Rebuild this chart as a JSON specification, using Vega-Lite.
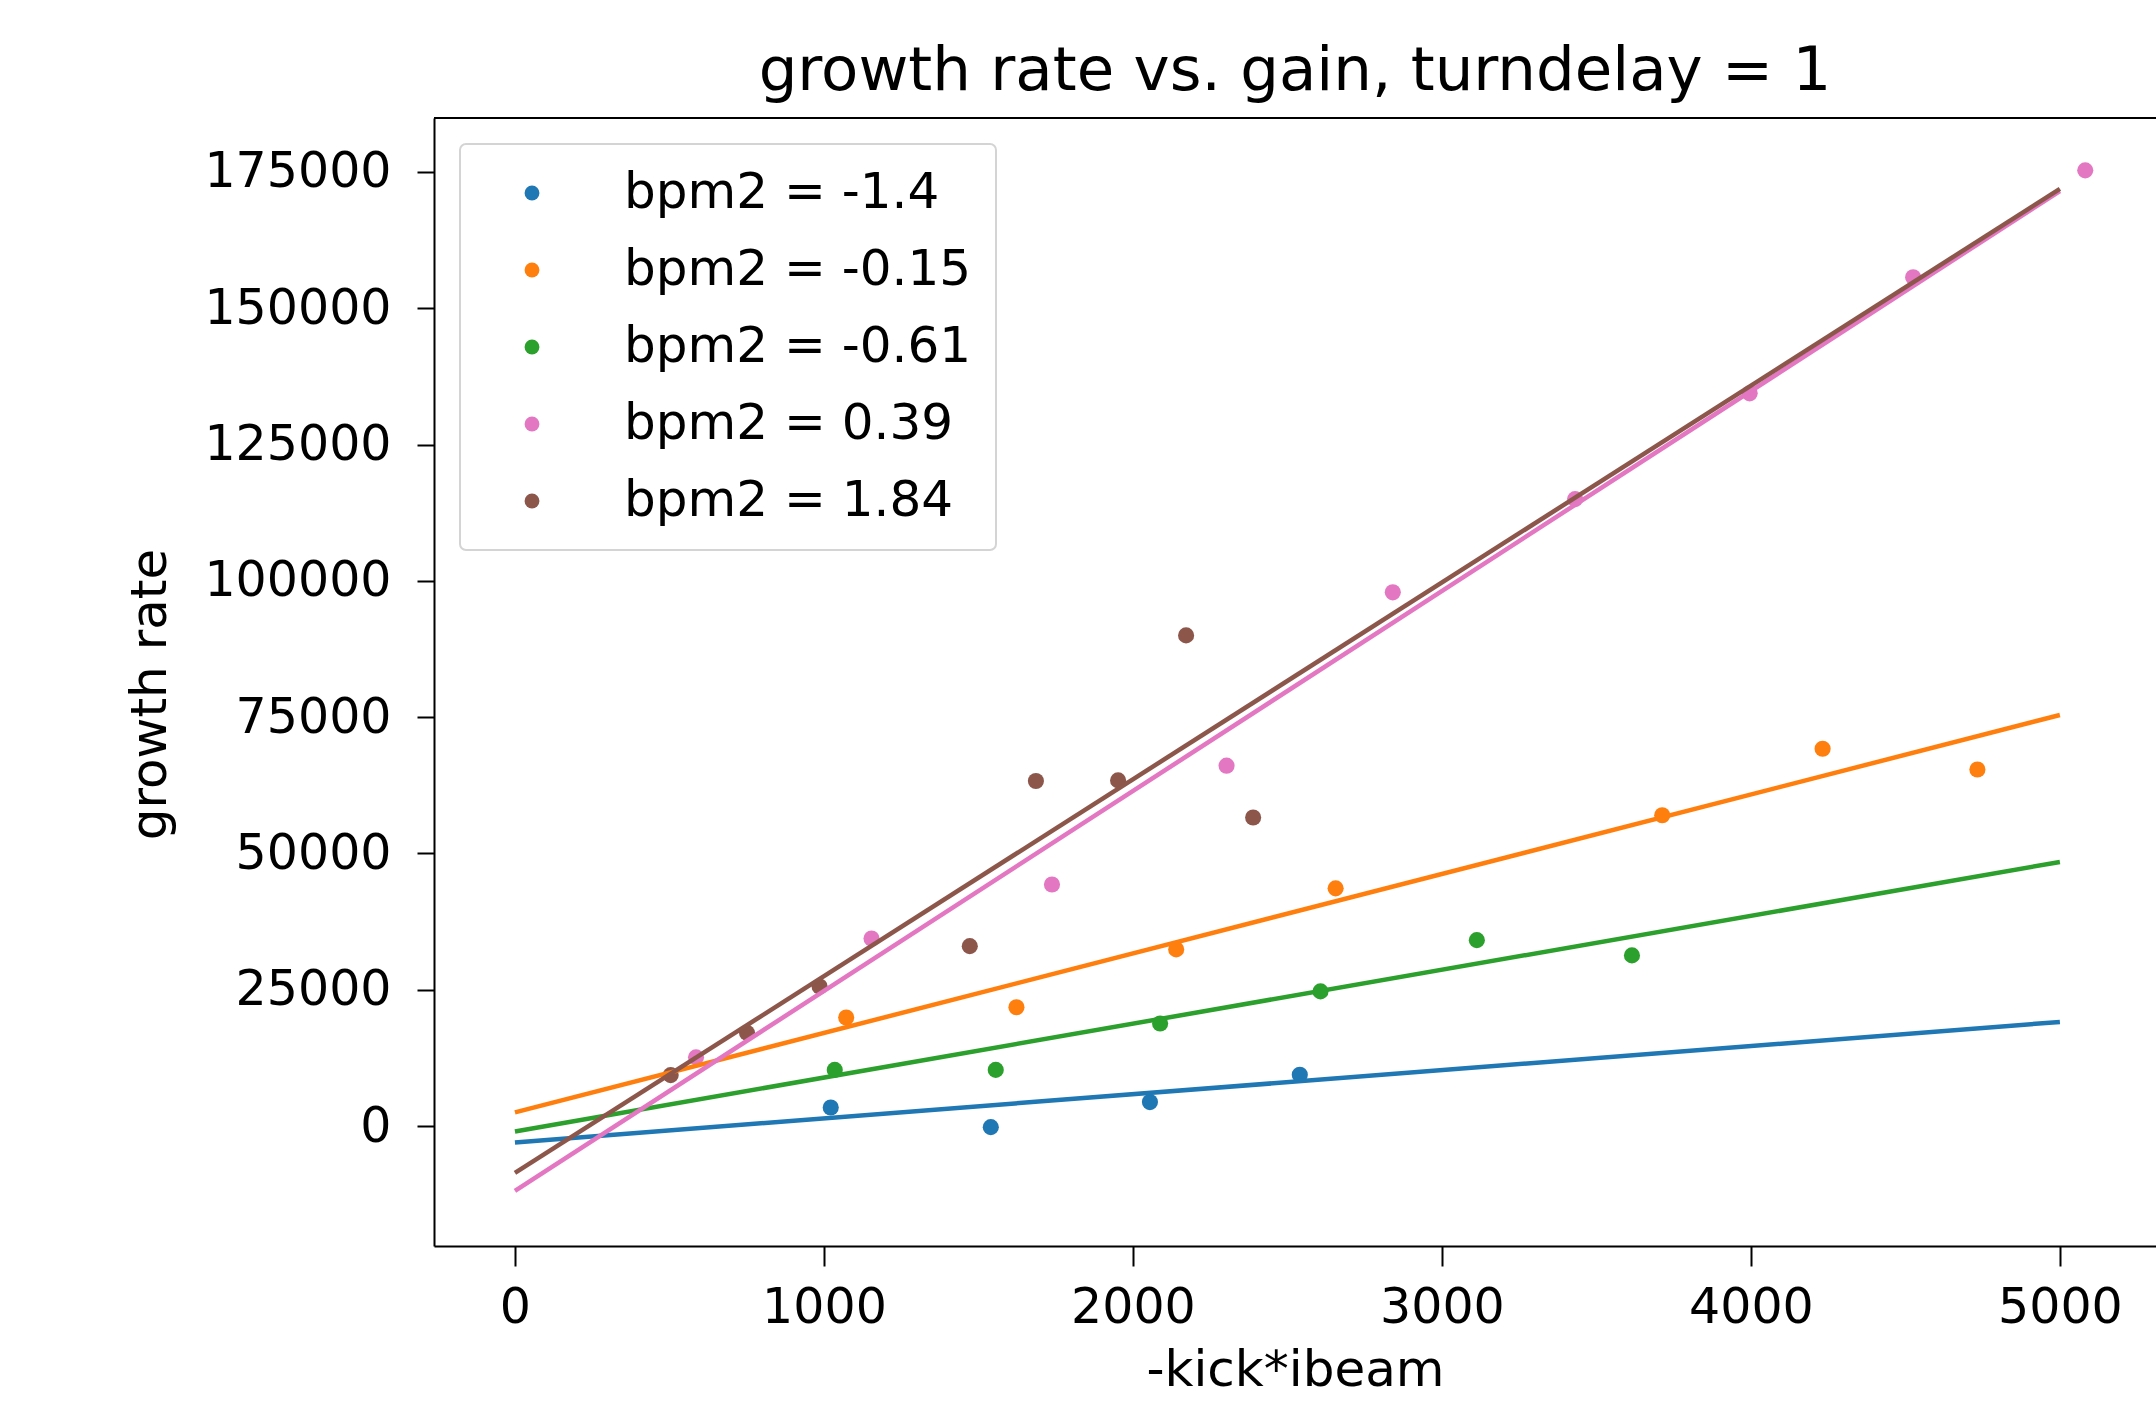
{
  "$schema": "https://vega.github.io/schema/vega-lite/v6.json",
  "autosize": {"type": "none"},
  "padding": {"left": 434, "top": 118, "right": 0, "bottom": 155},
  "width": 1722,
  "height": 1128,
  "background": "white",
  "title": {"text": "growth rate vs. gain, turndelay = 1", "fontSize": 61, "font": "DejaVu Sans", "fontWeight": "normal", "color": "black", "offset": 14, "anchor": "middle"},
  "config": {"view": {"stroke": null}, "font": "DejaVu Sans", "legend": {"strokeWidth": 2}},
  "datasets": {
    "points": [
      {"series": "bpm2 = -1.4", "x": 1022, "y": 3400},
      {"series": "bpm2 = -1.4", "x": 1540, "y": -200},
      {"series": "bpm2 = -1.4", "x": 2055, "y": 4400},
      {"series": "bpm2 = -1.4", "x": 2540, "y": 9400},
      {"series": "bpm2 = -0.15", "x": 1072, "y": 19900},
      {"series": "bpm2 = -0.15", "x": 1623, "y": 21800},
      {"series": "bpm2 = -0.15", "x": 2140, "y": 32400},
      {"series": "bpm2 = -0.15", "x": 2656, "y": 43600},
      {"series": "bpm2 = -0.15", "x": 3713, "y": 57000},
      {"series": "bpm2 = -0.15", "x": 4232, "y": 69200},
      {"series": "bpm2 = -0.15", "x": 4733, "y": 65400},
      {"series": "bpm2 = -0.61", "x": 1035, "y": 10300},
      {"series": "bpm2 = -0.61", "x": 1556, "y": 10300},
      {"series": "bpm2 = -0.61", "x": 2088, "y": 18800},
      {"series": "bpm2 = -0.61", "x": 2607, "y": 24700},
      {"series": "bpm2 = -0.61", "x": 3113, "y": 34100},
      {"series": "bpm2 = -0.61", "x": 3615, "y": 31300},
      {"series": "bpm2 = 0.39", "x": 586, "y": 12600},
      {"series": "bpm2 = 0.39", "x": 1154, "y": 34400},
      {"series": "bpm2 = 0.39", "x": 1738, "y": 44300},
      {"series": "bpm2 = 0.39", "x": 2303, "y": 66100},
      {"series": "bpm2 = 0.39", "x": 2841, "y": 97900},
      {"series": "bpm2 = 0.39", "x": 3431, "y": 115000},
      {"series": "bpm2 = 0.39", "x": 3996, "y": 134400},
      {"series": "bpm2 = 0.39", "x": 4525, "y": 155700},
      {"series": "bpm2 = 0.39", "x": 5082, "y": 175300},
      {"series": "bpm2 = 1.84", "x": 504, "y": 9350},
      {"series": "bpm2 = 1.84", "x": 751, "y": 17100},
      {"series": "bpm2 = 1.84", "x": 986, "y": 25600},
      {"series": "bpm2 = 1.84", "x": 1472, "y": 33000},
      {"series": "bpm2 = 1.84", "x": 1686, "y": 63300},
      {"series": "bpm2 = 1.84", "x": 1952, "y": 63400},
      {"series": "bpm2 = 1.84", "x": 2172, "y": 90000},
      {"series": "bpm2 = 1.84", "x": 2389, "y": 56600}
    ],
    "fits": [
      {"series": "bpm2 = -1.4", "x": 0, "y": -3000},
      {"series": "bpm2 = -1.4", "x": 5000, "y": 19100},
      {"series": "bpm2 = -0.15", "x": 0, "y": 2500},
      {"series": "bpm2 = -0.15", "x": 5000, "y": 75400},
      {"series": "bpm2 = -0.61", "x": 0, "y": -1000},
      {"series": "bpm2 = -0.61", "x": 5000, "y": 48450},
      {"series": "bpm2 = 0.39", "x": 0, "y": -11900},
      {"series": "bpm2 = 0.39", "x": 5000, "y": 171500},
      {"series": "bpm2 = 1.84", "x": 0, "y": -8600},
      {"series": "bpm2 = 1.84", "x": 5000, "y": 171900}
    ],
    "frame": [{"top": 184900}]
  },
  "layer": [
    {
      "data": {"name": "points"},
      "mark": {"type": "circle", "size": 260, "opacity": 1},
      "encoding": {
        "x": {"field": "x", "type": "quantitative", "scale": {"domain": [-262, 5311], "nice": false, "zero": false},
          "axis": {"title": "-kick*ibeam", "values": [0, 1000, 2000, 3000, 4000, 5000], "format": "d", "grid": false, "domainColor": "black", "domainWidth": 2, "tickColor": "black", "tickWidth": 2, "tickSize": 20, "labelFontSize": 49, "labelColor": "black", "labelPadding": 17, "labelLimit": 0, "titleFontSize": 50, "titleFontWeight": "normal", "titleColor": "black", "titlePadding": 13, "labelFlush": false, "labelOverlap": false}},
        "y": {"field": "y", "type": "quantitative", "scale": {"domain": [-22000, 184900], "nice": false, "zero": false},
          "axis": {"title": "growth rate", "values": [0, 25000, 50000, 75000, 100000, 125000, 150000, 175000], "format": "d", "grid": false, "domainColor": "black", "domainWidth": 2, "tickColor": "black", "tickWidth": 2, "tickSize": 17, "labelFontSize": 49, "labelColor": "black", "labelPadding": 26, "labelLimit": 0, "titleFontSize": 50, "titleFontWeight": "normal", "titleColor": "black", "titleX": -259, "titleY": 576, "labelFlush": false, "labelOverlap": false}},
        "color": {"field": "series", "type": "nominal", "sort": null,
          "scale": {"domain": ["bpm2 = -1.4", "bpm2 = -0.15", "bpm2 = -0.61", "bpm2 = 0.39", "bpm2 = 1.84"], "range": ["#1f77b4", "#ff7f0e", "#2ca02c", "#e377c2", "#8c564b"]},
          "legend": {"title": null, "orient": "none", "legendX": 26, "legendY": 26, "symbolType": "circle", "symbolSize": 220, "symbolStrokeWidth": 0, "labelFontSize": 50, "labelColor": "black", "labelOffset": 67, "symbolOffset": 23, "padding": 24, "rowPadding": 27, "strokeColor": "#d4d4d4", "fillColor": "white", "cornerRadius": 6, "labelLimit": 0}}
      }
    },
    {
      "data": {"name": "fits"},
      "mark": {"type": "line", "strokeWidth": 4.5},
      "encoding": {
        "x": {"field": "x", "type": "quantitative"},
        "y": {"field": "y", "type": "quantitative"},
        "color": {"field": "series", "type": "nominal", "sort": null, "legend": null}
      }
    },
    {
      "data": {"name": "frame"},
      "mark": {"type": "rule", "color": "black", "strokeWidth": 2},
      "encoding": {"y": {"field": "top", "type": "quantitative"}}
    }
  ],
  "resolve": {"legend": {"color": "independent"}}
}
